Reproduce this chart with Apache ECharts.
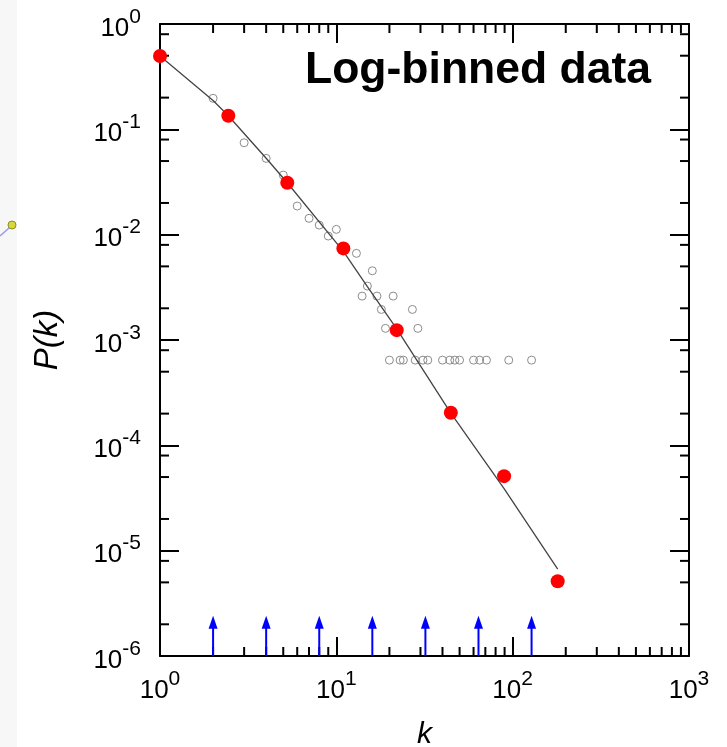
<!DOCTYPE html>
<html>
<head>
<meta charset="utf-8">
<script src="https://cdn.jsdelivr.net/npm/echarts@6/dist/echarts.min.js"></script>
<style>
html, body { margin: 0; padding: 0; background: #fff; }
#chart { width: 727px; height: 747px; }
</style>
</head>
<body>
<div id="chart"></div>
<script>
"use strict";
// log-binned points (red)
var binnedK = [1, 2.44, 5.27, 10.96, 22, 44.6, 89.4, 180];
var binnedP = [0.497, 0.1346, 0.0311, 0.00741, 0.00124, 2.04e-4, 5.10e-5, 5.13e-6];
// raw histogram (grey open circles)
var rawK = [2, 3, 4, 5, 6, 7, 8, 9, 10, 13, 16, 15, 14, 17, 21, 18, 27, 19, 29,
    20, 23, 24, 28, 31, 33, 40, 44, 47, 50, 60, 65, 71, 95, 128];
var rawP = [0.197, 0.0746, 0.0530, 0.0368, 0.0187, 0.01429, 0.01234, 0.00970, 0.01123,
    0.00665, 0.00454, 0.00325, 0.00261, 0.00261, 0.00261, 0.00195, 0.00195, 0.00129, 0.00129,
    6.44e-4, 6.44e-4, 6.44e-4, 6.44e-4, 6.44e-4, 6.44e-4, 6.44e-4, 6.44e-4, 6.44e-4,
    6.44e-4, 6.44e-4, 6.44e-4, 6.44e-4, 6.44e-4, 6.44e-4];
// fitted curve
var fitK = [1, 2, 2.44, 4, 5.27, 10.96, 15, 22, 44.6, 89.4, 180];
var fitP = [0.4966, 0.1877, 0.1346, 0.0531, 0.0311, 0.00693, 0.00321, 0.001276, 2.023e-4, 3.89e-5, 6.67e-6];
// bin edges (blue arrows)
var binEdges = [2, 4, 8, 16, 32, 64, 128];
var arrowTop = 2.41e-6;
// axes
var xMin = 1, xMax = 1000, yMin = 1e-6, yMax = 1;
var xMinorTicks = [2, 3, 4, 5, 6, 7, 8, 9, 20, 30, 40, 50, 60, 70, 80, 90,
    200, 300, 400, 500, 600, 700, 800, 900];
var yMinorTicks = [2e-6, 5e-6, 8e-6, 2e-5, 5e-5, 8e-5, 2e-4, 5e-4, 8e-4,
    2e-3, 5e-3, 8e-3, 2e-2, 5e-2, 8e-2, 0.2, 0.5, 0.8];

var FONT = '"Liberation Sans", Arial, Helvetica, sans-serif';
var MAJOR_LEN = 19, MINOR_LEN = 9;

var chart = echarts.init(document.getElementById('chart'));

function powLabel(v) {
    var e = Math.round(Math.log10(v));
    return '{b|10}{s|' + e + '}';
}

var labelRich = {
    b: {fontSize: 26, fontFamily: FONT, color: '#000', padding: [9, 0, 0, 0]},
    s: {fontSize: 21, fontFamily: FONT, color: '#000', verticalAlign: 'top'}
};

var axisLine = {show: true, onZero: false, lineStyle: {color: '#000', width: 2}};
var majorTick = {show: true, inside: true, length: MAJOR_LEN, lineStyle: {color: '#000', width: 2}};

function xAxisOf(pos, showLabel) {
    return {
        type: 'log', logBase: 10, min: xMin, max: xMax, position: pos,
        axisLine: axisLine, axisTick: majorTick, splitLine: {show: false},
        axisLabel: {show: showLabel, margin: 13, formatter: powLabel, rich: labelRich},
        name: showLabel ? 'k' : '', nameLocation: 'middle', nameGap: 64,
        nameTextStyle: {fontSize: 30, fontStyle: 'italic', fontFamily: FONT, color: '#000'}
    };
}

function yAxisOf(pos, showLabel) {
    return {
        type: 'log', logBase: 10, min: yMin, max: yMax, position: pos, splitNumber: 6,
        axisLine: axisLine, axisTick: majorTick, splitLine: {show: false},
        axisLabel: {show: showLabel, margin: 19, formatter: powLabel, rich: labelRich},
        name: showLabel ? 'P(k)' : '', nameLocation: 'middle', nameGap: 96,
        nameTextStyle: {fontSize: 33, fontStyle: 'italic', fontFamily: FONT, color: '#000'}
    };
}

var tickStyle = {stroke: '#000', lineWidth: 2};

function xMinorItem(params, api) {
    var k = api.value(0);
    var b = api.coord([k, yMin]);
    var t = api.coord([k, yMax]);
    return {type: 'group', children: [
        {type: 'line', shape: {x1: b[0], y1: b[1], x2: b[0], y2: b[1] - MINOR_LEN}, style: tickStyle},
        {type: 'line', shape: {x1: t[0], y1: t[1], x2: t[0], y2: t[1] + MINOR_LEN}, style: tickStyle}
    ]};
}

function yMinorItem(params, api) {
    var v = api.value(1);
    var l = api.coord([xMin, v]);
    var r = api.coord([xMax, v]);
    return {type: 'group', children: [
        {type: 'line', shape: {x1: l[0], y1: l[1], x2: l[0] + MINOR_LEN, y2: l[1]}, style: tickStyle},
        {type: 'line', shape: {x1: r[0], y1: r[1], x2: r[0] - MINOR_LEN, y2: r[1]}, style: tickStyle}
    ]};
}

function arrowItem(params, api) {
    var k = api.value(0);
    var base = api.coord([k, yMin]);
    var tip = api.coord([k, api.value(1)]);
    var headLen = 13, headHalf = 4.5;
    return {type: 'group', children: [
        {type: 'line', shape: {x1: base[0], y1: base[1], x2: tip[0], y2: tip[1] + headLen - 1},
            style: {stroke: '#0000ff', lineWidth: 2}},
        {type: 'polygon', shape: {points: [[tip[0], tip[1]], [tip[0] - headHalf, tip[1] + headLen],
            [tip[0] + headHalf, tip[1] + headLen]]}, style: {fill: '#0000ff'}}
    ]};
}

var option = {
    animation: false,
    backgroundColor: '#fff',
    grid: {left: 160, right: 38, top: 24, bottom: 91, containLabel: false, outerBoundsMode: 'none'},
    xAxis: [xAxisOf('bottom', true), xAxisOf('top', false)],
    yAxis: [yAxisOf('left', true), yAxisOf('right', false)],
    graphic: [
        {type: 'rect', left: 0, top: 0, z: -1, shape: {width: 17, height: 747}, style: {fill: '#f7f7f7'}},
        {type: 'line', shape: {x1: 0, y1: 236, x2: 9, y2: 228}, style: {stroke: '#9a9ae8', lineWidth: 1.5}},
        {type: 'circle', shape: {cx: 12, cy: 225, r: 4}, style: {fill: '#d8d83c', stroke: '#8c8c28', lineWidth: 1}},
        {type: 'text', x: 305, y: 71, z: 10, style: {text: 'Log-binned data', font: 'bold 44.5px ' + FONT,
            fill: '#000', verticalAlign: 'middle', align: 'left'}}
    ],
    series: [
        {
            type: 'custom', renderItem: xMinorItem, silent: true, z: 1,
            data: xMinorTicks.map(function (k) { return [k, yMin]; })
        },
        {
            type: 'custom', renderItem: yMinorItem, silent: true, z: 1,
            data: yMinorTicks.map(function (v) { return [xMin, v]; })
        },
        {
            type: 'custom', renderItem: arrowItem, silent: true, z: 2,
            data: binEdges.map(function (k) { return [k, arrowTop]; })
        },
        {
            name: 'raw', type: 'scatter', z: 3, symbol: 'circle', symbolSize: 8,
            itemStyle: {color: 'rgba(0,0,0,0)', borderColor: '#8c8c8c', borderWidth: 1, opacity: 1},
            data: rawK.map(function (k, i) { return [k, rawP[i]]; })
        },
        {
            name: 'fit', type: 'line', z: 4, showSymbol: false, symbol: 'none', smooth: false,
            lineStyle: {color: '#444', width: 1.3},
            data: fitK.map(function (k, i) { return [k, fitP[i]]; })
        },
        {
            name: 'binned', type: 'scatter', z: 5, symbol: 'circle', symbolSize: 14,
            itemStyle: {color: '#ff0000', opacity: 1},
            data: binnedK.map(function (k, i) { return [k, binnedP[i]]; })
        }
    ]
};

chart.setOption(option);
</script>
</body>
</html>
